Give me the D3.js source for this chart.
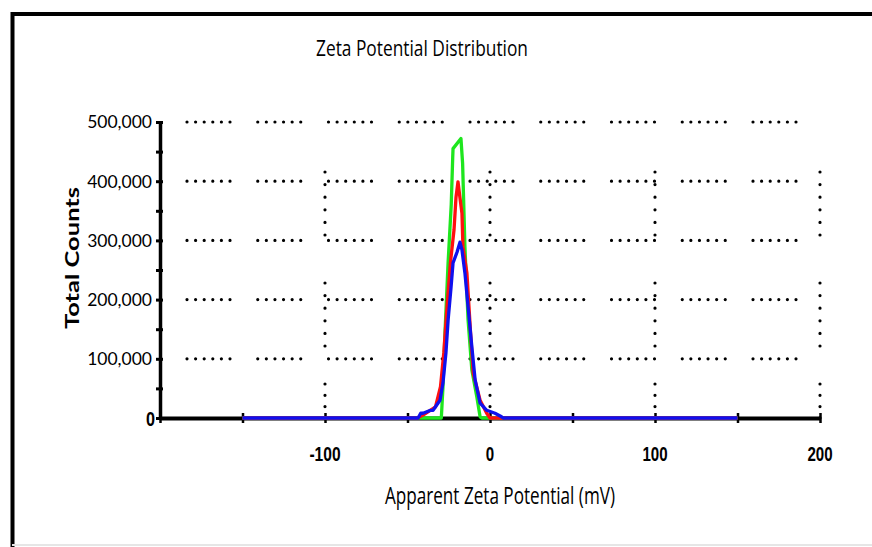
<!DOCTYPE html>
<html>
<head>
<meta charset="utf-8">
<script src="https://cdn.jsdelivr.net/npm/d3@7"></script>
<style>
    body { margin: 0; background: #fff; }
</style>
</head>
<body>
<div id="chart"></div>
<script>
/*
 * Zeta potential distribution chart, three runs over the same axis.
 */

// Apparent zeta potential (mV) and total counts for each run
const greenMv     = [-150, -44, -29.5, -28.5, -27.3, -25.4, -23.5, -22.6, -22.4, -17.6, -16.6, -16, -15.2, -13.3, -11, -8, -6, -5, 150]
const greenCounts = [0, 0, 0, 53000, 143000, 262000, 360000, 440000, 455000, 472000, 430000, 370000, 289000, 166000, 81000, 36000, 2000, 0, 0]

const redMv     = [-150, -44, -40.6, -33, -30, -28, -26, -24, -21.8, -20.6, -19.4, -18.2, -17, -16.4, -14, -12, -10.2, -6, -2, 0, 150]
const redCounts = [0, 0, 5000, 19000, 53000, 110000, 190000, 262000, 318000, 373000, 399000, 372000, 346000, 289000, 245000, 154000, 76000, 30000, 8000, 0, 0]

const blueMv     = [-150, -43.6, -42, -40.6, -36, -34.5, -30.3, -28.5, -26.7, -25.4, -23.6, -22.4, -20, -18.2, -17, -15.2, -13.3, -11, -9, -6, -2, 3, 7, 8, 150]
const blueCounts = [0, 0, 8000, 8000, 13000, 13000, 30000, 59000, 110000, 165000, 221000, 262000, 280000, 297000, 284000, 245000, 188000, 120000, 64000, 25000, 13000, 8000, 2000, 0, 0]

// Tick values
const xTicks      = [-200, -150, -100, -50, 0, 50, 100, 150, 200]
const xTickLabels = [-100, 0, 100, 200]
const xGridValues = [-100, 0, 100, 200]
const yTicks      = [0, 50000, 100000, 150000, 200000, 250000, 300000, 350000, 400000, 450000, 500000]
const yTickLabels = [0, 100000, 200000, 300000, 400000, 500000]
const yGridValues = [100000, 200000, 300000, 400000, 500000]

const TITLE  = "Zeta Potential Distribution"
const XTITLE = "Apparent Zeta Potential (mV)"
const YTITLE = "Total Counts"

const WIDTH = 872
const HEIGHT = 547

let svg = d3.select("#chart").append("svg")
    .attr("width", WIDTH)
    .attr("height", HEIGHT)

// outer frame of the picture
svg.append("rect")
    .attr("x", 0).attr("y", 0).attr("width", WIDTH).attr("height", HEIGHT)
    .attr("fill", "#fff")
svg.append("path")
    .attr("d", `M12.5,${HEIGHT} V14 H${WIDTH}`)
    .attr("fill", "none")
    .attr("stroke", "#000")
    .attr("stroke-width", 4)
svg.append("line")
    .attr("x1", 12).attr("x2", WIDTH).attr("y1", 545).attr("y2", 545)
    .attr("stroke", "#e6e6e6")
    .attr("stroke-width", 2)

// scales
const x = d3.scaleLinear().domain([-200, 200]).range([160, 820])
const y = d3.scaleLinear().domain([0, 500000]).range([418, 122])

// horizontal grid: short runs of dots
svg.append("g")
    .selectAll("line")
    .data(yGridValues)
    .join("line")
        .attr("x1", x(-200))
        .attr("x2", x(200) + 2)
        .attr("y1", d => y(d))
        .attr("y2", d => y(d))
        .attr("stroke", "#000")
        .attr("stroke-width", 3.2)
        .attr("stroke-linecap", "round")
        .attr("stroke-dasharray", "0,8.6,0,8.6,0,8.6,0,8.6,0,8.6,0,27.75")
        .attr("stroke-dashoffset", 43.75)

// vertical grid: three dotted runs from top to axis
svg.append("g")
    .selectAll("line")
    .data(xGridValues)
    .join("line")
        .attr("x1", d => x(d))
        .attr("x2", d => x(d))
        .attr("y1", y(500000))
        .attr("y2", y(0) + 1)
        .attr("stroke", "#000")
        .attr("stroke-width", 3.2)
        .attr("stroke-linecap", "round")
        .attr("stroke-dasharray",
            "0,12.6,0,12.6,0,12.6,0,12.6,0,12.6,0,48," +
            "0,12.6,0,12.6,0,12.6,0,12.6,0,12.6,0,38," +
            "0,11.3,0,11.3,0,11.3,0,60")
        .attr("stroke-dashoffset", 255.9)

// x axis
let xAxis = svg.append("g")
    .attr("transform", `translate(0,${y(0)})`)
    .call(d3.axisBottom(x).tickValues(xTicks).tickSize(0).tickFormat(""))
xAxis.select(".domain").attr("stroke", "#000").attr("stroke-width", 4)
xAxis.selectAll(".tick line")
    .attr("y1", -5).attr("y2", 5)
    .attr("stroke", "#000").attr("stroke-width", 2.5)

// y axis
let yAxis = svg.append("g")
    .attr("transform", `translate(${x(-200)},0)`)
    .call(d3.axisLeft(y).tickValues(yTicks).tickSize(0).tickFormat(""))
yAxis.select(".domain").attr("stroke", "#000").attr("stroke-width", 3.5)
yAxis.selectAll(".tick line")
    .attr("x1", -4).attr("x2", 3)
    .attr("stroke", "#000").attr("stroke-width", 3)

// y tick labels
svg.append("g")
    .selectAll("text")
    .data(yTickLabels)
    .join("text")
        .attr("x", d => d === 0 ? 155 : 152)
        .attr("y", d => y(d))
        .attr("dy", "0.36em")
        .attr("text-anchor", "end")
        .attr("font-family", d => d === 0 ? "Liberation Sans" : "Lato")
        .attr("font-weight", d => d === 0 ? "bold" : "normal")
        .attr("font-size", d => d === 0 ? 21 : 17.5)
        .attr("fill", "#000")
        .attr("textLength", d => d === 0 ? 9 : null)
        .attr("lengthAdjust", "spacingAndGlyphs")
        .text(d => d === 0 ? "0" : d3.format(",")(d))

// x tick labels, heavy and narrow
svg.append("g")
    .selectAll("text")
    .data(xTickLabels)
    .join("text")
        .attr("x", d => x(d))
        .attr("y", 453)
        .attr("dy", "0.36em")
        .attr("text-anchor", "middle")
        .attr("font-family", "Liberation Sans")
        .attr("font-weight", "bold")
        .attr("font-size", 21)
        .attr("fill", "#000")
        .attr("textLength", d => String(Math.abs(d)).length * 8.4 + (d < 0 ? 6 : 0))
        .attr("lengthAdjust", "spacingAndGlyphs")
        .text(d => d < 0 ? "-" + Math.abs(d) : String(d))

// series lines
const line = d3.line()
    .x(d => x(d[0]))
    .y(d => y(d[1]))

const series = [
    { name: "green", mv: greenMv, counts: greenCounts, color: "#1ee61e" },
    { name: "red",   mv: redMv,   counts: redCounts,   color: "#ff1010" },
    { name: "blue",  mv: blueMv,  counts: blueCounts,  color: "#1010ee" }
]

svg.append("g")
    .selectAll("path")
    .data(series)
    .join("path")
        .attr("d", s => line(d3.zip(s.mv, s.counts)))
        .attr("fill", "none")
        .attr("stroke", s => s.color)
        .attr("stroke-width", 3.3)
        .attr("stroke-linejoin", "round")

// titles
svg.append("text")
    .attr("x", 422)
    .attr("y", 56)
    .attr("text-anchor", "middle")
    .attr("font-family", "Open Sans")
    .attr("font-size", 22)
    .attr("fill", "#000")
    .attr("textLength", 212)
    .attr("lengthAdjust", "spacingAndGlyphs")
    .text(TITLE)

svg.append("text")
    .attr("x", 500)
    .attr("y", 504)
    .attr("text-anchor", "middle")
    .attr("font-family", "Open Sans")
    .attr("font-size", 24)
    .attr("fill", "#000")
    .attr("textLength", 230)
    .attr("lengthAdjust", "spacingAndGlyphs")
    .text(XTITLE)

svg.append("text")
    .attr("transform", "translate(79,258) rotate(-90)")
    .attr("text-anchor", "middle")
    .attr("font-family", "Lato")
    .attr("font-weight", "bold")
    .attr("font-size", 19)
    .attr("fill", "#000")
    .attr("textLength", 142)
    .attr("lengthAdjust", "spacingAndGlyphs")
    .text(YTITLE)
</script>
</body>
</html>
